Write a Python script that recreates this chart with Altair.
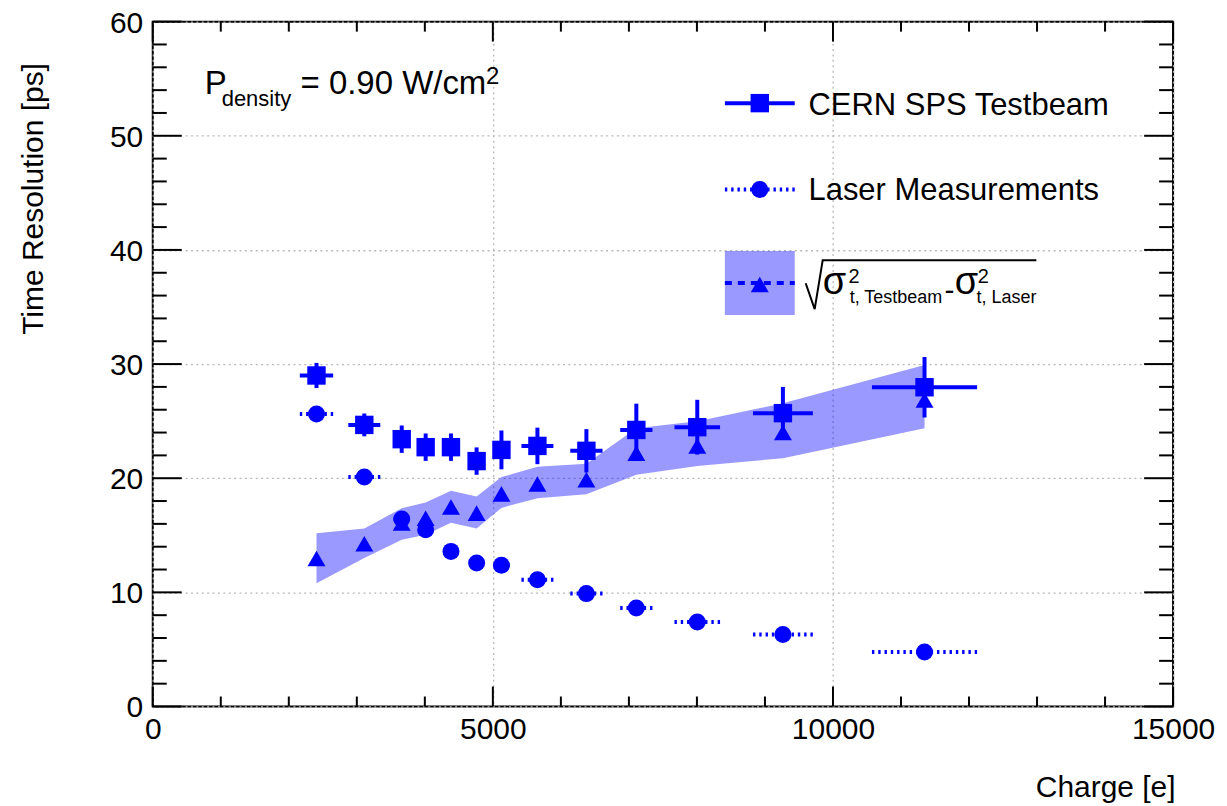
import altair as alt
import pandas as pd

# ---------------- data ----------------
charge = [2407, 3110, 3660, 4012, 4384, 4761, 5126, 5655, 6375, 7109, 8005, 9264, 11346]
charge_err = [245, 235, 120, 110, 110, 110, 120, 235, 237, 237, 335, 440, 773]
testbeam = [29.0, 24.67, 23.42, 22.72, 22.72, 21.5, 22.48, 22.83, 22.4, 24.23, 24.47, 25.7, 27.97]
testbeam_err = [1.1, 1.0, 1.2, 1.2, 1.2, 1.2, 1.7, 1.6, 1.9, 2.3, 2.4, 2.3, 2.65]
laser = [25.63, 20.1, 16.42, 15.49, 13.59, 12.57, 12.37, 11.11, 9.89, 8.63, 7.40, 6.30, 4.78]
diff = [12.97, 14.26, 16.07, 16.5, 17.47, 16.94, 18.63, 19.5, 19.86, 22.19, 22.83, 24.0, 26.86]
band_lo = [10.8, 13.0, 14.6, 15.05, 16.1, 15.6, 17.4, 18.25, 18.6, 20.3, 21.08, 21.75, 24.38]
band_hi = [15.17, 15.6, 17.37, 17.88, 18.9, 18.4, 20.1, 21.0, 21.26, 24.38, 25.0, 26.56, 29.92]

x_major = [0, 5000, 10000, 15000]
x_minor = [v for v in range(0, 15001, 1000) if v % 5000 != 0]
y_major = [0, 10, 20, 30, 40, 50, 60]
y_minor = [v for v in range(0, 61, 2) if v % 10 != 0]

# annotation / legend texts (positions in data units)
ann_text = ["P", "density", "= 0.90 W/cm", "2",
            "CERN SPS Testbeam", "Laser Measurements",
            "σ", "2", "t, Testbeam", "-", "σ", "2", "t, Laser"]
ann_x = [763, 1013, 2172, 4900, 9640, 9640, 9850, 10230, 10245, 11640, 11790, 12130, 12110]
ann_y = [53.70, 52.65, 53.70, 54.58, 51.84, 44.39, 36.18, 37.11, 35.36, 35.63, 36.18, 37.11, 35.36]
ann_fs = [33, 22, 33, 24, 31, 31, 38, 20, 18, 30, 38, 20, 18]

rad_x = [9599, 9731, 9849, 12990]
rad_y = [37.08, 34.81, 39.10, 39.10]

leg_x0, leg_xc, leg_x1 = 8411, 8924, 9438
leg_y = [52.86, 45.3, 37.11]
leg_tri_y = 36.97
leg_box = [34.29, 39.91]

BLUE = "#0000ff"
FONT = "Liberation Sans"
W, H = 1022, 686

# ---------------- tables ----------------
df = pd.DataFrame({
    "charge": charge, "cerr": charge_err,
    "tb": testbeam, "tberr": testbeam_err,
    "laser": laser, "diff": diff, "lo": band_lo, "hi": band_hi,
})
df["c_lo"] = df["charge"] - df["cerr"]
df["c_hi"] = df["charge"] + df["cerr"]
df["tb_lo"] = df["tb"] - df["tberr"]
df["tb_hi"] = df["tb"] + df["tberr"]

halves = pd.concat([
    pd.DataFrame({"start": df["c_lo"], "end": df["charge"], "y": df["laser"]}),
    pd.DataFrame({"start": df["c_hi"], "end": df["charge"], "y": df["laser"]}),
], ignore_index=True)

ann = pd.DataFrame({"x": ann_x, "y": ann_y, "t": ann_text, "fs": ann_fs})
rad = pd.DataFrame({"x": rad_x, "y": rad_y})

xs = alt.Scale(domain=[0, 15000], nice=False, zero=False)
ys = alt.Scale(domain=[0, 60], nice=False, zero=False)
xaxis = alt.Axis(values=x_major, format="d", title="Charge [e]", ticks=False, domain=False,
                 grid=True, labelPadding=8, labelFlush=False, labelOverlap=False,
                 titleX=1024, titleY=90, titleAlign="right", titleBaseline="alphabetic",
                 titleAngle=0)
yaxis = alt.Axis(values=y_major, format="d", title="Time Resolution [ps]", ticks=False,
                 domain=False, grid=True, labelPadding=10, labelFlush=False, labelOffset=1.5,
                 labelOverlap=False, titleX=-110, titleY=41, titleAlign="right",
                 titleBaseline="alphabetic", titleAngle=270)


def X(f):
    return alt.X(f, type="quantitative", scale=xs, axis=xaxis)


def Y(f):
    return alt.Y(f, type="quantitative", scale=ys, axis=yaxis)


base = alt.Chart(df)

band = base.mark_area(color=BLUE, opacity=0.4).encode(x=X("charge"), y=Y("lo"), y2="hi")

laser_err = alt.Chart(halves).mark_rule(color=BLUE, strokeWidth=4, strokeDash=[2.4, 3.9]).encode(
    x=X("start"), x2="end", y=Y("y"))
laser_pts = base.mark_point(shape="circle", filled=True, opacity=1, color=BLUE, size=290).encode(
    x=X("charge"), y=Y("laser"))

tb_h = base.mark_rule(color=BLUE, strokeWidth=4).encode(x=X("c_lo"), x2="c_hi", y=Y("tb"))
tb_v = base.mark_rule(color=BLUE, strokeWidth=4).encode(x=X("charge"), y=Y("tb_lo"), y2="tb_hi")
tb_pts = base.mark_point(shape="square", filled=True, opacity=1, color=BLUE, size=340).encode(
    x=X("charge"), y=Y("tb"))

diff_pts = base.mark_point(shape="triangle-up", filled=True, opacity=1, color=BLUE, size=324).encode(
    x=X("charge"), y=Y("diff"))

# ---- legend ----
leg_df = pd.DataFrame({"x0": [leg_x0], "xc": [leg_xc], "x1": [leg_x1],
                       "y1": [leg_y[0]], "y2": [leg_y[1]], "y3": [leg_y[2]],
                       "yt": [leg_tri_y], "b0": [leg_box[0]], "b1": [leg_box[1]]})
lb = alt.Chart(leg_df)
leg_box_m = lb.mark_rect(color=BLUE, opacity=0.4).encode(x=X("x0"), x2="x1", y=Y("b0"), y2="b1")
leg_l1 = lb.mark_rule(color=BLUE, strokeWidth=4).encode(x=X("x0"), x2="x1", y=Y("y1"))
leg_m1 = lb.mark_point(shape="square", filled=True, opacity=1, color=BLUE, size=340).encode(
    x=X("xc"), y=Y("y1"))
leg_l2a = lb.mark_rule(color=BLUE, strokeWidth=4, strokeDash=[2.4, 3.9]).encode(
    x=X("x0"), x2="xc", y=Y("y2"))
leg_l2b = lb.mark_rule(color=BLUE, strokeWidth=4, strokeDash=[2.4, 3.9]).encode(
    x=X("x1"), x2="xc", y=Y("y2"))
leg_m2 = lb.mark_point(shape="circle", filled=True, opacity=1, color=BLUE, size=290).encode(
    x=X("xc"), y=Y("y2"))
leg_l3 = lb.mark_rule(color=BLUE, strokeWidth=4, strokeDash=[7, 6]).encode(
    x=X("x0"), x2="x1", y=Y("y3"))
leg_m3 = lb.mark_point(shape="triangle-up", filled=True, opacity=1, color=BLUE, size=324).encode(
    x=X("xc"), y=Y("yt"))

radical = alt.Chart(rad).mark_line(color="black", strokeWidth=2, strokeJoin="miter").encode(
    x=X("x"), y=Y("y"))

texts = alt.Chart(ann).mark_text(align="left", baseline="alphabetic", color="black", font=FONT).encode(
    x=X("x"), y=Y("y"), text="t:N", size=alt.Size("fs:Q", scale=None))

# ---- inward ticks on all four sides ----
def xticks(vals, length):
    c = alt.Chart(pd.DataFrame({"v": vals}))
    bottom = c.mark_rule(color="black", strokeWidth=2).encode(
        x=X("v"), y=alt.value(H), y2=alt.value(H - length))
    top = c.mark_rule(color="black", strokeWidth=2).encode(
        x=X("v"), y=alt.value(0), y2=alt.value(length))
    return [bottom, top]


def yticks(vals, length):
    c = alt.Chart(pd.DataFrame({"v": vals}))
    left = c.mark_rule(color="black", strokeWidth=2).encode(
        y=Y("v"), x=alt.value(0), x2=alt.value(length))
    right = c.mark_rule(color="black", strokeWidth=2).encode(
        y=Y("v"), x=alt.value(W), x2=alt.value(W - length))
    return [left, right]


ticks = xticks(x_major, 20) + xticks(x_minor, 10) + yticks(y_major, 29) + yticks(y_minor, 14)

chart = alt.layer(
    band, laser_err, laser_pts, tb_h, tb_v, tb_pts, diff_pts,
    leg_box_m, leg_l1, leg_m1, leg_l2a, leg_l2b, leg_m2, leg_l3, leg_m3,
    radical, texts, *ticks
).properties(
    width=W, height=H,
    autosize=alt.AutoSizeParams(type="none"),
    padding={"left": 145, "top": 13, "right": 46, "bottom": 97},
).configure(
    font=FONT
).configure_view(
    stroke="black", strokeWidth=2
).configure_axis(
    labelFont=FONT, labelFontSize=30, labelColor="black",
    titleFont=FONT, titleFontSize=30, titleFontWeight="normal", titleColor="black",
    gridColor="#b8b8b8", gridDash=[2, 3.4], gridWidth=1.3,
)

chart.save("out.html", embed_options={"renderer": "svg", "actions": False})
